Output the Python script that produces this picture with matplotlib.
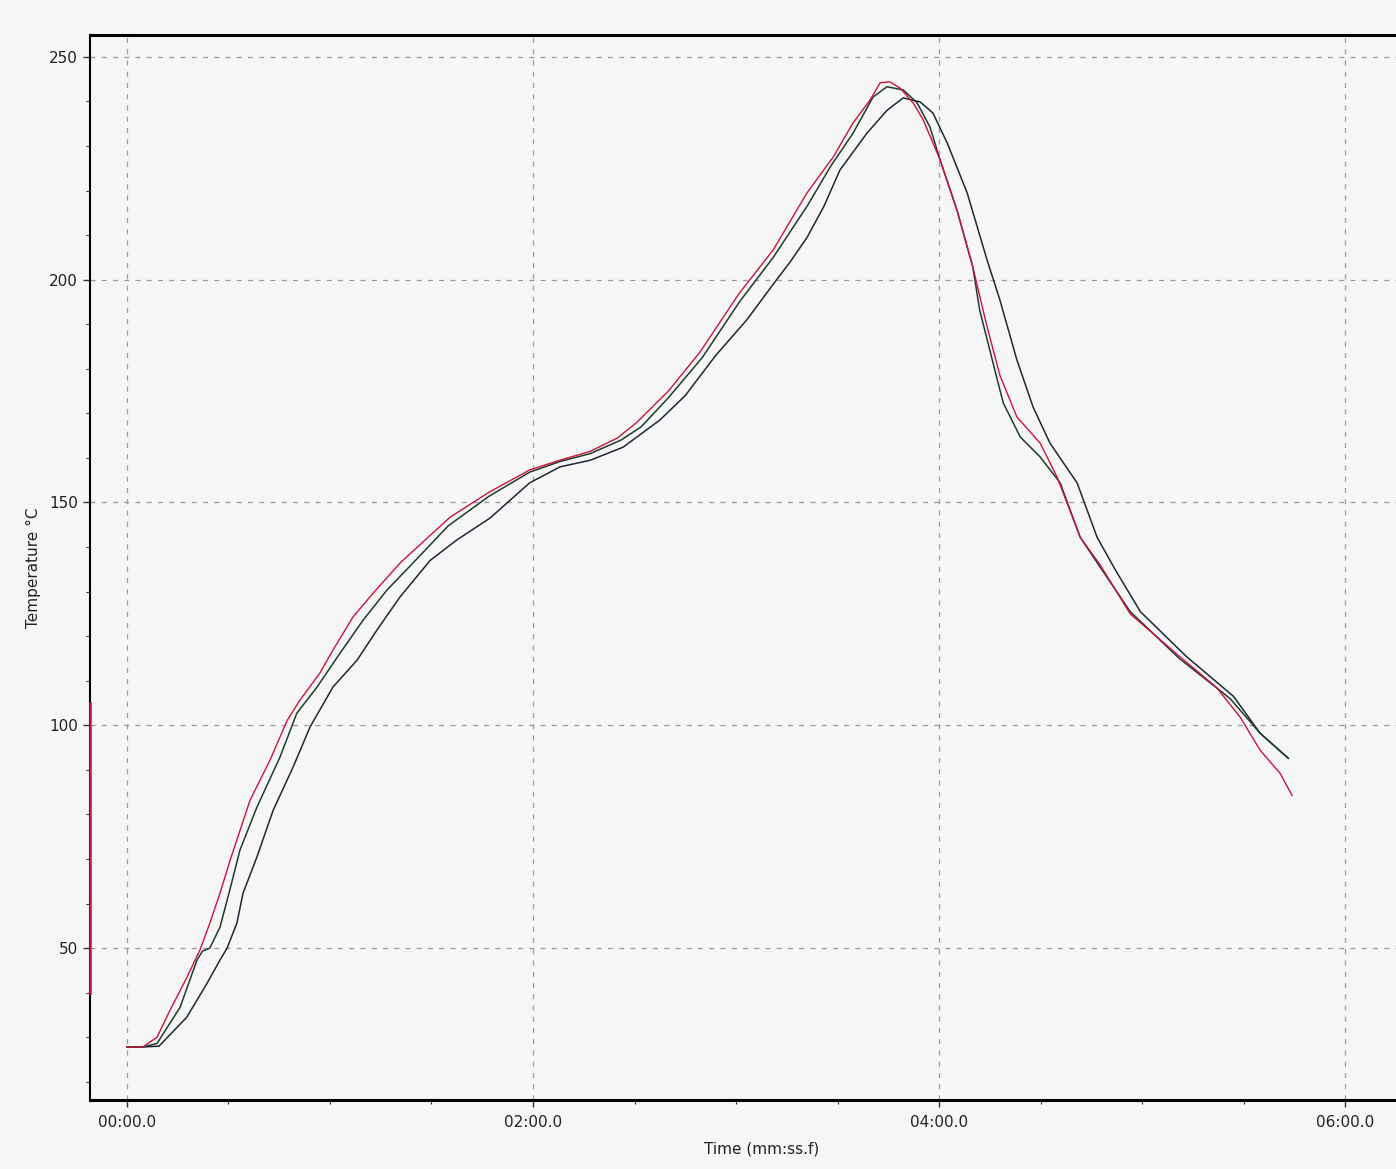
import matplotlib
matplotlib.use("Agg")
import matplotlib.pyplot as plt
from matplotlib.ticker import MultipleLocator, FuncFormatter

# Reflow profile, three thermocouples
# time in seconds, temperature in deg C

red_t = [0, 4.7, 8.9, 12.7, 17.7, 21.6, 24.5, 27.5, 30.4, 36.4, 42.3, 47.3, 51.1, 57, 60.9,
         66.8, 72.7, 80.7, 88, 95.5, 107, 119, 128, 137, 145, 150.7, 160, 169.4, 181, 191,
         201, 208.7, 214.6, 219.6, 222.6, 225.5, 228.5, 232.3, 235.3, 240.3, 245.3, 250,
         254, 258, 263, 269.9, 274.9, 281.7, 287.6, 296.5, 311, 322, 329, 334.9, 340.8, 344.3]
red_T = [27.8, 27.8, 30, 36, 43.4, 49.6, 55.6, 62.3, 69.5, 83.2, 92.2, 101, 105.6, 111.7, 116.9,
         124.3, 129.6, 136.4, 141.5, 146.7, 152.3, 157.3, 159.5, 161.5, 164.5, 168, 175, 183.8,
         197, 206.7, 219.5, 227.5, 235.2, 240.3, 244.2, 244.4, 243, 239.7, 235.9, 226.9, 215.6,
         202.8, 190, 178.5, 169.2, 163.3, 155.7, 142.2, 136, 125, 115.5, 108.5, 101.8, 94.4,
         89.2, 84.3]

# short red trace along the left edge (before the start of the run)
red_lead_t = [-10.8, -10.8]
red_lead_T = [105, 40]

green_t = [0, 4.7, 8.9, 15.7, 20.7, 22.3, 24.5, 27.5, 30.4, 33.4, 38.4, 45.2, 50.2, 56.2, 63,
           69.8, 76.8, 84.5, 95, 107, 119, 128, 137, 146, 152, 160, 170, 181, 191, 201, 208,
           214.6, 220.5, 224.6, 229.4, 233.5, 237.3, 240.3, 245.3, 250, 252, 257, 259, 264,
           269.9, 275.8, 281.7, 287.6, 296.5, 311, 326, 334.9, 343.2]
green_T = [27.8, 27.8, 28.6, 36.7, 47.3, 49.3, 50, 54.7, 63, 72, 81.6, 92.8, 102.7, 108.6, 116.2,
           123.6, 130.3, 136.4, 144.8, 151.4, 156.8, 159.2, 161, 164, 167, 173.5, 182.5, 195,
           205, 216.5, 225.5, 232.9, 241, 243.3, 242.6, 239.7, 234.3, 226.9, 215.6, 202.8,
           193.2, 178.2, 172.3, 164.7, 160.2, 154.4, 142.2, 135.5, 125.5, 115, 106, 98.2, 92.6]

blue_t = [0, 4.7, 9.5, 17.7, 23.6, 27.5, 29.6, 32.5, 34.3, 38.4, 43.2, 49.1, 54.1, 60.9, 68,
          73.9, 80.7, 89.6, 97.5, 107.3, 119, 128, 137, 146.6, 157.5, 165, 174, 183.2, 191, 196,
          201, 206, 210.7, 218.7, 224.6, 229.4, 234.4, 238.2, 242.4, 248.3, 254.2, 258, 263,
          267.8, 272.8, 280.8, 286.7, 292, 299.5, 313, 327, 334.9, 343.2]
blue_T = [27.8, 27.8, 28, 34.5, 42, 47.3, 50, 55.6, 62.3, 70.4, 80.9, 90.6, 99.6, 108.6, 114.6,
          121.4, 128.8, 137, 141.6, 146.5, 154.4, 158, 159.5, 162.4, 168.5, 174, 183, 191, 199,
          204, 209.5, 216.5, 224.6, 232.9, 238, 240.8, 239.9, 237.4, 230.7, 219.5, 204.4, 195.4,
          182, 171.4, 163.3, 154.4, 142.2, 135, 125.5, 115.5, 106.5, 98.2, 92.6]

x_ticks = [0, 120, 240, 360]
y_ticks = [50, 100, 150, 200, 250]

bg = '#f6f6f6'
fig = plt.figure(figsize=(13.96, 11.69), dpi=100, facecolor=bg)
ax = fig.add_axes([0.0645, 0.059, 0.9628, 0.911])
ax.set_facecolor(bg)

ax.plot(blue_t, blue_T, color='#1c2838', lw=1.1)
ax.plot(green_t, green_T, color='#1f3b2a', lw=1.1)
ax.plot(red_t, red_T, color='#c8143e', lw=1.0)
ax.plot(red_lead_t, red_lead_T, color='#c8143e', lw=1.8, clip_on=False, zorder=5)

ax.set_xlim(-10.9, 386.3)
ax.set_ylim(15.9, 254.9)

def mmss(v, pos):
    m = int(v // 60)
    s = v - m * 60
    return '%02d:%04.1f' % (m, s)

ax.set_xticks(x_ticks)
ax.xaxis.set_minor_locator(MultipleLocator(30))
ax.xaxis.set_major_formatter(FuncFormatter(mmss))
ax.set_yticks(y_ticks)
ax.yaxis.set_minor_locator(MultipleLocator(10))

ax.grid(True, which='major', color='#9a9a9a', linestyle=(0, (4, 5)), linewidth=0.9)

for side in ['top', 'bottom']:
    ax.spines[side].set_linewidth(2.2)
ax.spines['left'].set_linewidth(1.5)
ax.spines['right'].set_visible(False)

ax.tick_params(which='both', direction='out', colors='#333333', labelcolor='#222222')
ax.tick_params(which='major', length=5, width=1.0, labelsize=11)
ax.tick_params(which='minor', length=3, width=0.8)
ax.tick_params(axis='x', pad=6)

ax.set_xlabel('Time (mm:ss.f)', fontsize=11, color='#222222', labelpad=8)
ax.set_ylabel('Temperature °C', fontsize=11, color='#222222', labelpad=6)

fig.savefig('out.png', dpi=100, facecolor=bg)
